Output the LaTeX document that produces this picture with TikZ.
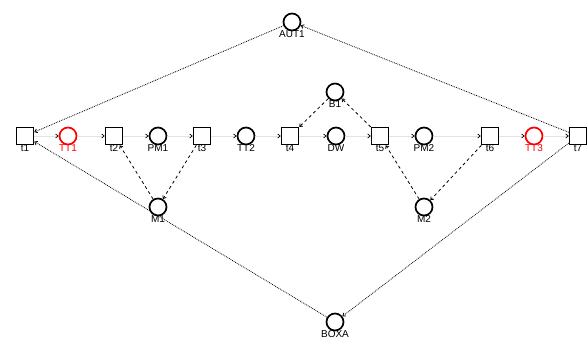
\documentclass[tikz,border=0pt]{standalone}
\usepackage{fontspec}
\setmainfont{Liberation Sans}
\usepackage{tikz}
\usetikzlibrary{arrows.meta,positioning}

\begin{document}
\begin{tikzpicture}[x=1pt,y=-1pt,
  place/.style={circle,draw=black,line width=1.7pt,minimum size=17pt,inner sep=0pt,
    label={[lbl,label distance=-2pt]below:#1}},
  redplace/.style={circle,draw=red,line width=1.7pt,minimum size=17pt,inner sep=0pt,
    label={[lbl,text=red,label distance=-2pt]below:#1}},
  trans/.style={rectangle,draw=black,line width=1.5pt,minimum size=17pt,inner sep=0pt,
    label={[lbl,label distance=-2pt]below:#1}},
  lbl/.style={font=\fontsize{10}{11}\selectfont,inner sep=1pt},
  flow/.style={gray!22,line width=0.7pt,-{Straight Barb[length=2.5pt,width=4pt,color=black]}},
  res/.style={black,densely dotted,line width=0.8pt,-{Straight Barb[length=2.5pt,width=4pt]}},
  mach/.style={black,dash pattern=on 3pt off 3pt,line width=0.8pt,-{Straight Barb[length=2.5pt,width=4pt]}}]
\useasboundingbox (0,0) rectangle (588,352);
% main row
\foreach \n/\x/\k in {t1/25/trans, TT1/68/redplace, t2/114/trans, PM1/158/place,
  t3/202/trans, TT2/246/place, t4/290/trans, DW/336/place, t5/380/trans,
  PM2/424/place, t6/490/trans, TT3/534/redplace, t7/578/trans}
  \node[\k=\n] (\n) at (\x,136) {};
% resources
\node[place=AUT1] (AUT1) at (292,22) {};
\node[place=B1] (B1) at (335,92) {};
\node[place=M1] (M1) at (158,207) {};
\node[place=M2] (M2) at (424,207) {};
\node[place=BOXA] (BOXA) at (335,322) {};
\foreach \a/\b in {t1/TT1, TT1/t2, t2/PM1, PM1/t3, t3/TT2, TT2/t4, t4/DW, DW/t5,
  t5/PM2, PM2/t6, t6/TT3, TT3/t7}
  \draw[flow] (\a) -- (\b);
\draw[res] (AUT1) -- (t1);
\draw[res] (t7) -- (AUT1);
\draw[res] (BOXA) -- (t1);
\draw[res] (t7) -- (BOXA);
\draw[mach] (M1) -- (t2);
\draw[mach] (t3) -- (M1);
\draw[mach] (B1) -- (t4);
\draw[mach] (t5) -- (B1);
\draw[mach] (M2) -- (t5);
\draw[mach] (t6) -- (M2);
\end{tikzpicture}
\end{document}
